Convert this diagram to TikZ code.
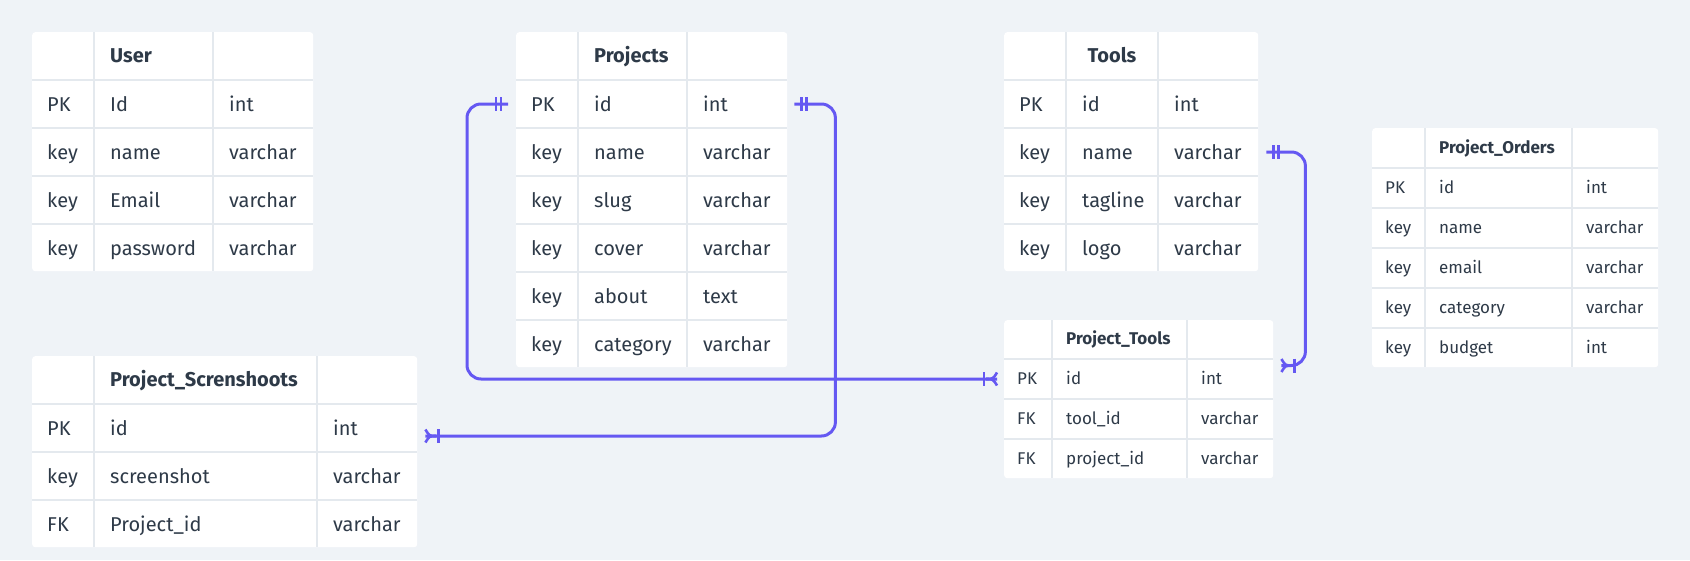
\documentclass[tikz,border=0pt]{standalone}
\usepackage{fontspec}
\setmainfont{Fira Sans}
\definecolor{bgc}{RGB}{239,243,247}
\definecolor{gapc}{RGB}{228,233,238}
\definecolor{txtc}{RGB}{46,58,72}
\definecolor{connc}{RGB}{101,88,242}
\tikzset{
  tablebox/.style={rectangle, rounded corners=3pt, fill=white, draw=none, anchor=north west, inner sep=0pt},
  bigcell/.style={anchor=west, inner xsep=15pt, inner ysep=0pt, text height=14pt, text depth=0pt, text=txtc, font=\fontsize{20}{24}\selectfont},
  bighead/.style={bigcell, font=\fontsize{20}{24}\selectfont\bfseries},
  smallcell/.style={anchor=west, inner xsep=13pt, inner ysep=0pt, text height=11.7pt, text depth=0pt, text=txtc, font=\fontsize{17}{20}\selectfont},
  smallhead/.style={smallcell, font=\fontsize{17}{20}\selectfont\bfseries},
  conn/.style={draw=connc, line width=3pt, rounded corners=14pt},
  markline/.style={draw=connc, line width=2.6pt},
}
\newcommand\markone[2]{\begin{scope}[shift={(#1)}, xscale=#2]
  \draw[markline] (7,-7) -- (7,7) (12,-7) -- (12,7);
\end{scope}}
\newcommand\markmany[2]{\begin{scope}[shift={(#1)}, xscale=#2]
  \draw[markline] (13,-7) -- (13,7);
  \draw[markline] (11,0) .. controls (4,0) .. (0,-6.5);
  \draw[markline] (11,0) .. controls (4,0) .. (0,6.5);
\end{scope}}
\begin{document}
\begin{tikzpicture}[x=1pt, y=-1pt]
\useasboundingbox (0,0) rectangle (1690,560);
\fill[bgc] (0,0) rectangle (1690,560);

% ---------- User ----------
\node[tablebox, minimum width=281pt, minimum height=239pt] (user) at (32,32) {};
\foreach \x in {93,212} \fill[gapc] (\x,32) rectangle ++(2,239);
\foreach \y in {79,127,175,223} \fill[gapc] (32,\y) rectangle ++(281,2);
\node[bighead] (U0) at (95,55.5) {User};
\foreach \a/\b/\c [count=\i] in {PK/Id/int, key/name/varchar, key/Email/varchar, key/password/varchar} {
  \pgfmathsetmacro\yy{81+48*(\i-1)+23}
  \node[bigcell] (U\i-a) at (32,\yy) {\a};
  \node[bigcell] (U\i-b) at (95,\yy) {\b};
  \node[bigcell] (U\i-c) at (214,\yy) {\c};
}

% ---------- Projects ----------
\node[tablebox, minimum width=271pt, minimum height=335pt] (projects) at (516,32) {};
\foreach \x in {577,686} \fill[gapc] (\x,32) rectangle ++(2,335);
\foreach \y in {79,127,175,223,271,319} \fill[gapc] (516,\y) rectangle ++(271,2);
\node[bighead] (P0) at (579,55.5) {Projects};
\foreach \a/\b/\c [count=\i] in {PK/id/int, key/name/varchar, key/slug/varchar, key/cover/varchar, key/about/text, key/category/varchar} {
  \pgfmathsetmacro\yy{81+48*(\i-1)+23}
  \node[bigcell] (P\i-a) at (516,\yy) {\a};
  \node[bigcell] (P\i-b) at (579,\yy) {\b};
  \node[bigcell] (P\i-c) at (688,\yy) {\c};
}

% ---------- Tools ----------
\node[tablebox, minimum width=254pt, minimum height=239pt] (tools) at (1004,32) {};
\foreach \x in {1065,1157} \fill[gapc] (\x,32) rectangle ++(2,239);
\foreach \y in {79,127,175,223} \fill[gapc] (1004,\y) rectangle ++(254,2);
\node[bighead, anchor=center] (T0) at (1112,55.5) {Tools};
\foreach \a/\b/\c [count=\i] in {PK/id/int, key/name/varchar, key/tagline/varchar, key/logo/varchar} {
  \pgfmathsetmacro\yy{81+48*(\i-1)+23}
  \node[bigcell] (T\i-a) at (1004,\yy) {\a};
  \node[bigcell] (T\i-b) at (1067,\yy) {\b};
  \node[bigcell] (T\i-c) at (1159,\yy) {\c};
}

% ---------- Project_Screnshoots ----------
\node[tablebox, minimum width=385pt, minimum height=191pt] (screens) at (32,356) {};
\foreach \x in {93,316} \fill[gapc] (\x,356) rectangle ++(2,191);
\foreach \y in {403,451,499} \fill[gapc] (32,\y) rectangle ++(385,2);
\node[bighead] (S0) at (95,379.5) {Project\_Screnshoots};
\foreach \a/\b/\c [count=\i] in {PK/id/int, key/screenshot/varchar, FK/Project\_id/varchar} {
  \pgfmathsetmacro\yy{405+48*(\i-1)+23}
  \node[bigcell] (S\i-a) at (32,\yy) {\a};
  \node[bigcell] (S\i-b) at (95,\yy) {\b};
  \node[bigcell] (S\i-c) at (318,\yy) {\c};
}

% ---------- Project_Tools ----------
\node[tablebox, minimum width=269pt, minimum height=158pt] (ptools) at (1004,320) {};
\foreach \x in {1051,1186} \fill[gapc] (\x,320) rectangle ++(2,158);
\foreach \y in {358,398,438} \fill[gapc] (1004,\y) rectangle ++(269,2);
\node[smallhead] (PT0) at (1053,339) {Project\_Tools};
\foreach \a/\b/\c [count=\i] in {PK/id/int, FK/tool\_id/varchar, FK/project\_id/varchar} {
  \pgfmathsetmacro\yy{360+40*(\i-1)+19}
  \node[smallcell] (PT\i-a) at (1004,\yy) {\a};
  \node[smallcell] (PT\i-b) at (1053,\yy) {\b};
  \node[smallcell] (PT\i-c) at (1188,\yy) {\c};
}

% ---------- Project_Orders ----------
\node[tablebox, minimum width=286pt, minimum height=239pt] (orders) at (1372,128) {};
\foreach \x in {1424,1571} \fill[gapc] (\x,128) rectangle ++(2,239);
\foreach \y in {167,207,247,287,327} \fill[gapc] (1372,\y) rectangle ++(286,2);
\node[smallhead] (O0) at (1426,147.5) {Project\_Orders};
\foreach \a/\b/\c [count=\i] in {PK/id/int, key/name/varchar, key/email/varchar, key/category/varchar, key/budget/int} {
  \pgfmathsetmacro\yy{169+40*(\i-1)+19}
  \node[smallcell] (O\i-a) at (1372,\yy) {\a};
  \node[smallcell] (O\i-b) at (1426,\yy) {\b};
  \node[smallcell] (O\i-c) at (1573,\yy) {\c};
}

% ---------- connectors ----------
\coordinate (c1s) at ([xshift=-8pt]P1-a.west);
\coordinate (c1e) at ([xshift=-7pt]PT1-a.west);
\coordinate (c2s) at ([xshift=7pt]P1-a -| projects.east);
\coordinate (c2e) at ([xshift=8pt,yshift=-8pt]S1-a -| screens.east);
\coordinate (c3s) at ([xshift=8pt]T2-a -| tools.east);
\coordinate (c3e) at ([xshift=8pt,yshift=13.5pt]PT1-a -| ptools.east);

\draw[conn] (c1s) -- ([xshift=-41pt]c1s) |- (c1e);
\draw[conn] (c2s) -- ([xshift=41pt]c2s) |- (c2e);
\draw[conn] (c3s) -- ([xshift=39pt]c3s) |- (c3e);

\markone{c1s}{-1}
\markone{c2s}{1}
\markone{c3s}{1}
\markmany{c1e}{-1}
\markmany{c2e}{1}
\markmany{c3e}{1}
\end{tikzpicture}
\end{document}
